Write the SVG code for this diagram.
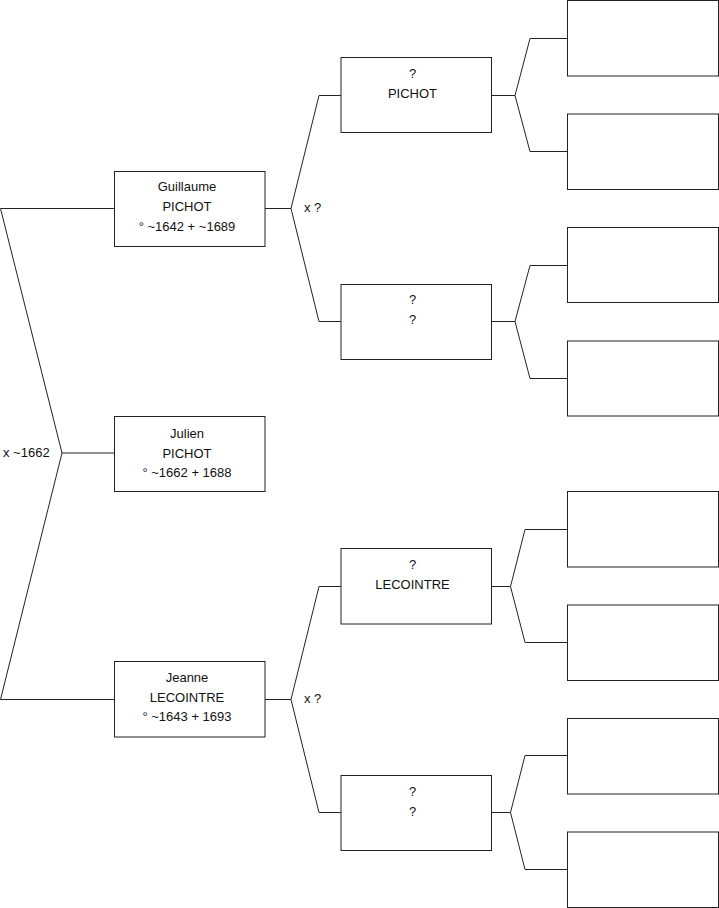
<svg xmlns="http://www.w3.org/2000/svg" width="719" height="908" viewBox="0 0 719 908">
<style>
.box{fill:#fff;stroke:#222;stroke-width:1}
.ln{fill:none;stroke:#222;stroke-width:1}
text{font-family:"Liberation Sans",Arial,sans-serif;font-size:13px;fill:#111;text-anchor:middle}
.lbl{text-anchor:start}
</style>
<rect width="719" height="908" fill="#fff"/>
<g id="connectors">
<polyline class="ln" points="114,208.5 0.5,208.5 62,453 0.5,699.5 114,699.5"/>
<line class="ln" x1="62" y1="453" x2="114" y2="453"/>
<polyline class="ln" points="341,95.5 319,95.5 291,208.5 319,321.5 341,321.5"/>
<line class="ln" x1="265" y1="208.5" x2="291" y2="208.5"/>
<polyline class="ln" points="341,586.5 319,586.5 291,699.5 319,812.5 341,812.5"/>
<line class="ln" x1="265" y1="699.5" x2="291" y2="699.5"/>
<polyline class="ln" points="567,38.5 530,38.5 515,95.5 530,151.5 567,151.5"/>
<line class="ln" x1="491" y1="95.5" x2="515" y2="95.5"/>
<polyline class="ln" points="567,265.5 530,265.5 515,321.5 530,378.5 567,378.5"/>
<line class="ln" x1="491" y1="321.5" x2="515" y2="321.5"/>
<polyline class="ln" points="567,529.5 525,529.5 510.5,586.5 525,642.5 567,642.5"/>
<line class="ln" x1="491" y1="586.5" x2="510.5" y2="586.5"/>
<polyline class="ln" points="567,755.5 525,755.5 510.5,812.5 525,869.5 567,869.5"/>
<line class="ln" x1="491" y1="812.5" x2="510.5" y2="812.5"/>
<text class="lbl" x="3" y="457">x ~1662</text>
<text class="lbl" x="304" y="212">x ?</text>
<text class="lbl" x="304" y="703">x ?</text>
</g>
<g id="guillaume"><rect class="box" x="114.5" y="171.5" width="150.5" height="75"/>
<text x="187" y="191">Guillaume</text><text x="187" y="211">PICHOT</text><text x="187" y="231">° ~1642 + ~1689</text></g>
<g id="julien"><rect class="box" x="114.5" y="416.5" width="150.5" height="75"/>
<text x="187" y="438">Julien</text><text x="187" y="458">PICHOT</text><text x="187" y="477">° ~1662 + 1688</text></g>
<g id="jeanne"><rect class="box" x="114.5" y="661.5" width="150.5" height="75.5"/>
<text x="187" y="682">Jeanne</text><text x="187" y="702">LECOINTRE</text><text x="187" y="721">° ~1643 + 1693</text></g>
<g id="pere-guillaume"><rect class="box" x="341" y="57.5" width="150.5" height="75"/>
<text x="412.5" y="78">?</text><text x="412.5" y="98">PICHOT</text></g>
<g id="mere-guillaume"><rect class="box" x="341" y="284.5" width="150.5" height="75"/>
<text x="412.5" y="304">?</text><text x="412.5" y="324">?</text></g>
<g id="pere-jeanne"><rect class="box" x="341" y="548.5" width="150.5" height="75.5"/>
<text x="412.5" y="569">?</text><text x="412.5" y="589">LECOINTRE</text></g>
<g id="mere-jeanne"><rect class="box" x="341" y="775.5" width="150.5" height="75"/>
<text x="412.5" y="796">?</text><text x="412.5" y="816">?</text></g>
<g id="g3-1"><rect class="box" x="567.5" y="0.5" width="151" height="75.5"/></g>
<g id="g3-2"><rect class="box" x="567.5" y="114" width="151" height="75.5"/></g>
<g id="g3-3"><rect class="box" x="567.5" y="227.5" width="151" height="75"/></g>
<g id="g3-4"><rect class="box" x="567.5" y="341" width="151" height="75"/></g>
<g id="g3-5"><rect class="box" x="567.5" y="491.5" width="151" height="75.5"/></g>
<g id="g3-6"><rect class="box" x="567.5" y="605" width="151" height="75.5"/></g>
<g id="g3-7"><rect class="box" x="567.5" y="718.5" width="151" height="75.5"/></g>
<g id="g3-8"><rect class="box" x="567.5" y="832" width="151" height="75.5"/></g>
</svg>
